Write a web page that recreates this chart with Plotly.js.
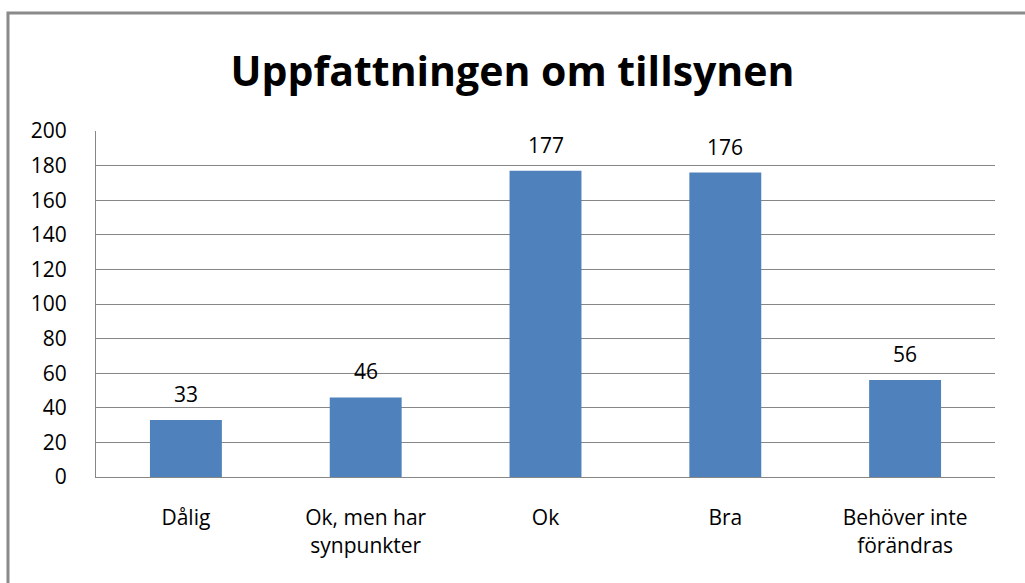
<!DOCTYPE html>
<html><head><meta charset="utf-8">
<script src="https://cdn.plot.ly/plotly-3.0.1.min.js"></script>
<style>body{margin:0;background:#fff}#c{width:1025px;height:583px}</style>
</head><body><div id="c"></div>
<script>
const categories = ["Dålig", "Ok, men har<br>synpunkter", "Ok", "Bra", "Behöver inte<br>förändras"];
const values = [33, 46, 177, 176, 56];
const yTicks = [0, 20, 40, 60, 80, 100, 120, 140, 160, 180, 200];
const titleText = "Uppfattningen om tillsynen";

const font = "'Open Sans', Lato, sans-serif";
const trace = {
  type: "bar", x: categories, y: values,
  marker: {color: "#4F81BD"}, hoverinfo: "none"
};
const annotations = categories.map((c, i) => ({
  x: c, y: values[i], xref: "x", yref: "y", text: String(values[i]),
  showarrow: false, yanchor: "bottom", yshift: 10,
  font: {family: font, size: 21, color: "#000"}
}));
const layout = {
  width: 1025, height: 583,
  margin: {l: 96, r: 30, t: 131, b: 106},
  paper_bgcolor: "#fff", plot_bgcolor: "#fff",
  showlegend: false, bargap: 0.6,
  title: {text: "<b>" + titleText + "</b>", font: {family: font, size: 41, color: "#000"},
          x: 0.5, xanchor: "center", xref: "container", y: 0.877, yanchor: "middle"},
  xaxis: {tickfont: {family: font, size: 21, color: "#000"}, showgrid: false,
          showline: true, linecolor: "#868686", linewidth: 1, ticks: "", ticklabelstandoff: 22,
          fixedrange: true},
  yaxis: {range: [0, 200], tickvals: yTicks, tickfont: {family: font, size: 21, color: "#000"},
          showgrid: true, gridcolor: "#868686", gridwidth: 1, zeroline: false,
          showline: true, linecolor: "#868686", linewidth: 1, mirror: false, ticks: "",
          ticklabelstandoff: 24, fixedrange: true},
  annotations: annotations,
  shapes: [{type: "rect", xref: "paper", yref: "paper",
            x0: -0.0979, x1: 1.2, y0: -0.5, y1: 1.341,
            line: {color: "#8a8a8a", width: 3}, fillcolor: "rgba(0,0,0,0)", layer: "below"}]
};
Plotly.newPlot("c", [trace], layout, {displayModeBar: false, staticPlot: true});
</script></body></html>
